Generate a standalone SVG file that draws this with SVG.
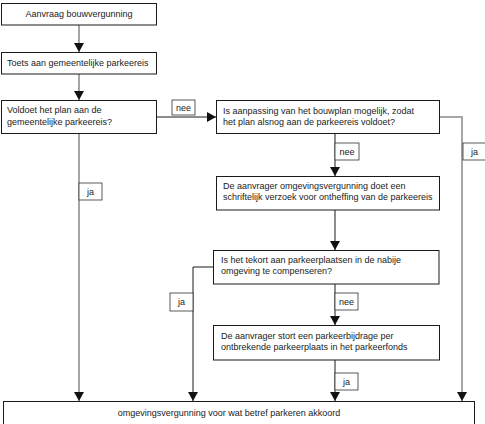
<svg xmlns="http://www.w3.org/2000/svg" width="485" height="424" viewBox="0 0 485 424">
<style>
.box{fill:#fff;stroke:#1a1a1a;stroke-width:1}
.lbl{fill:#fff;stroke:#333;stroke-width:0.8}
text{font-family:"Liberation Sans",Arial,sans-serif;font-size:9px;fill:#222}
.g{fill:none;stroke:#a6a6a6;stroke-width:2}
.k{fill:none;stroke:#1a1a1a;stroke-width:1}
</style>
<defs>
<marker id="ah" markerUnits="userSpaceOnUse" markerWidth="9" markerHeight="10" refX="9" refY="5" orient="auto" viewBox="0 0 9 10">
<path d="M0,0 L9,5 L0,10 Z" fill="#111"/>
</marker>
</defs>
<rect width="485" height="424" fill="#fff"/>
<g id="connectors">
<line class="g" x1="79" y1="25" x2="79" y2="52" marker-end="url(#ah)"/>
<line class="g" x1="79" y1="74" x2="79" y2="100" marker-end="url(#ah)"/>
<line class="g" x1="79" y1="134" x2="79" y2="401" marker-end="url(#ah)"/>
<line class="k" x1="157" y1="117" x2="216" y2="117" marker-end="url(#ah)"/>
<polyline class="g" points="440,117 462,117 462,401" marker-end="url(#ah)"/>
<line class="k" x1="335" y1="134" x2="335" y2="176" marker-end="url(#ah)"/>
<line class="k" x1="335" y1="210" x2="335" y2="250" marker-end="url(#ah)"/>
<polyline class="k" points="213,267 193,267 193,401" marker-end="url(#ah)"/>
<line class="k" x1="335" y1="284" x2="335" y2="325" marker-end="url(#ah)"/>
<line class="k" x1="335" y1="360" x2="335" y2="401" marker-end="url(#ah)"/>
<rect class="lbl" x="79" y="183" width="23" height="17"/><text x="90.5" y="194.5" text-anchor="middle">ja</text>
<rect class="lbl" x="172" y="100" width="23" height="15"/><text x="183.5" y="110.5" text-anchor="middle">nee</text>
<rect class="lbl" x="463" y="143" width="23" height="17"/><text x="474.5" y="154.5" text-anchor="middle">ja</text>
<rect class="lbl" x="335" y="143" width="24" height="17"/><text x="347" y="154.5" text-anchor="middle">nee</text>
<rect class="lbl" x="170" y="293" width="23" height="18"/><text x="181.5" y="305" text-anchor="middle">ja</text>
<rect class="lbl" x="335" y="293" width="23" height="17"/><text x="346.5" y="304.5" text-anchor="middle">nee</text>
<rect class="lbl" x="335" y="373" width="23" height="17"/><text x="346.5" y="384.5" text-anchor="middle">ja</text>
</g>
<g id="n1"><rect class="box" x="1.5" y="3.5" width="155" height="21.5"/><text x="79" y="17" text-anchor="middle">Aanvraag bouwvergunning</text></g>
<g id="n2"><rect class="box" x="1.5" y="52.5" width="155" height="21.5"/><text x="7" y="66">Toets aan gemeentelijke parkeereis</text></g>
<g id="n3"><rect class="box" x="1.5" y="100.5" width="155" height="33"/><text x="7" y="113">Voldoet het plan aan de</text><text x="7" y="125">gemeentelijke parkeereis?</text></g>
<g id="n4"><rect class="box" x="216.5" y="100.5" width="223" height="33"/><text x="223" y="114">Is aanpassing van het bouwplan mogelijk, zodat</text><text x="223" y="125">het plan alsnog aan de parkeereis voldoet?</text></g>
<g id="n5"><rect class="box" x="216.5" y="176.5" width="223" height="33.5"/><text x="223" y="189">De aanvrager omgevingsvergunning doet een</text><text x="223" y="200">schriftelijk verzoek voor ontheffing van de parkeereis</text></g>
<g id="n6"><rect class="box" x="213.5" y="250.5" width="225.5" height="33.5"/><text x="221" y="263">Is het tekort aan parkeerplaatsen in de nabije</text><text x="221" y="274">omgeving te compenseren?</text></g>
<g id="n7"><rect class="box" x="213.5" y="325.5" width="226" height="34.5"/><text x="221" y="339">De aanvrager stort een parkeerbijdrage per</text><text x="221" y="350">ontbrekende parkeerplaats in het parkeerfonds</text></g>
<g id="n8"><rect class="box" x="3.5" y="401.5" width="471" height="30"/><text x="229" y="416" text-anchor="middle">omgevingsvergunning voor wat betref parkeren akkoord</text></g>
</svg>
